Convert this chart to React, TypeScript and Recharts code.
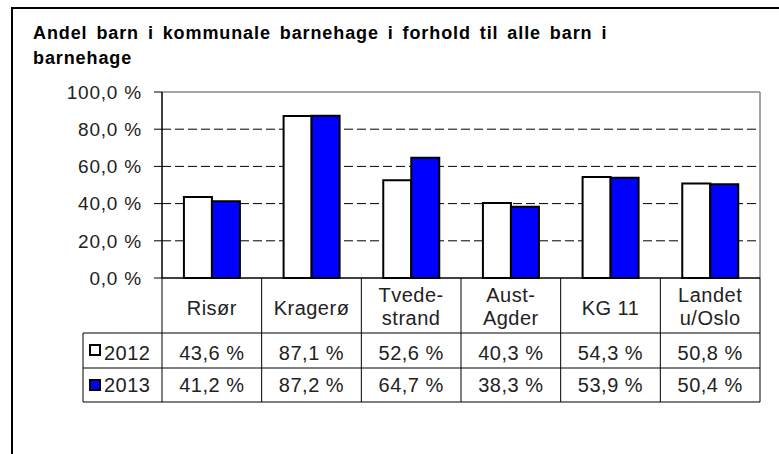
import React from "react";
import {
  BarChart,
  Bar,
  XAxis,
  YAxis,
  CartesianGrid,
  ReferenceLine,
} from "recharts";

const categories = ["Risør", "Kragerø", "Tvede-\nstrand", "Aust-\nAgder", "KG 11", "Landet\nu/Oslo"];
const values2012 = [43.6, 87.1, 52.6, 40.3, 54.3, 50.8];
const values2013 = [41.2, 87.2, 64.7, 38.3, 53.9, 50.4];
const yTicks = [0, 20, 40, 60, 80, 100];
const seriesNames = ["2012", "2013"];

const FONT = '"Liberation Sans", Arial, sans-serif';
const BLUE = "#0000ff";
const TEXT = "#222";

const fmt = (v: number) => `${v.toFixed(1).replace(".", ",")} %`;

const chartData = categories.map((name, i) => ({
  name,
  y2012: values2012[i],
  y2013: values2013[i],
}));

const seriesRows = [
  { name: seriesNames[0], values: values2012, color: "#fff" },
  { name: seriesNames[1], values: values2013, color: BLUE },
];

// plot area: x 162..760, y 92..278; data table hangs under it
const PLOT_LEFT = 162;
const PLOT_RIGHT = 760;
const COL_W = (PLOT_RIGHT - PLOT_LEFT) / categories.length;
const LEGEND_LEFT = 83;
const HEAD_H = 55;
const ROW_H = 35;
const TABLE_H = HEAD_H + 2 * ROW_H - 1;

// each x-axis tick draws its own column of the data table
function TableColumn(props: any) {
  const { x, y, payload, index } = props;
  const left = x - COL_W / 2;
  const right = x + COL_W / 2;
  const lines = String(payload.value).split("\n");
  const textProps = {
    fontFamily: FONT,
    fontSize: 20,
    letterSpacing: 0.5,
    fill: TEXT,
    textAnchor: "middle" as const,
  };
  const rowTops = [y + HEAD_H, y + HEAD_H + ROW_H, y + TABLE_H];
  return (
    <g>
      <line x1={right} x2={right} y1={y} y2={y + TABLE_H} stroke="#000" />
      {rowTops.map((ry, k) => (
        <line key={k} x1={left} x2={right} y1={ry} y2={ry} stroke="#000" />
      ))}
      {lines.length === 1 ? (
        <text x={x} y={y + 37} {...textProps}>
          {lines[0]}
        </text>
      ) : (
        lines.map((t, k) => (
          <text key={k} x={x} y={y + 24 + k * 23} {...textProps}>
            {t}
          </text>
        ))
      )}
      {seriesRows.map((r, k) => (
        <text key={r.name} x={x} y={y + 82 + k * 32} {...textProps}>
          {fmt(r.values[index])}
        </text>
      ))}
      {index === 0 && (
        <g>
          <line x1={left} x2={left} y1={y} y2={y + TABLE_H} stroke="#000" />
          <line x1={LEGEND_LEFT} x2={LEGEND_LEFT} y1={y + HEAD_H} y2={y + TABLE_H} stroke="#000" />
          {rowTops.map((ry, k) => (
            <line key={k} x1={LEGEND_LEFT} x2={left} y1={ry} y2={ry} stroke="#000" />
          ))}
          {seriesRows.map((r, k) => (
            <g key={r.name}>
              <rect
                x={LEGEND_LEFT + 7}
                y={y + HEAD_H + 12 + k * ROW_H}
                width={10}
                height={10}
                fill={r.color}
                stroke="#000"
                strokeWidth={2}
              />
              <text
                x={LEGEND_LEFT + 21}
                y={y + 82 + k * 32}
                fontFamily={FONT}
                fontSize={20}
                letterSpacing={0.5}
                fill={TEXT}
              >
                {r.name}
              </text>
            </g>
          ))}
        </g>
      )}
    </g>
  );
}

export default function App() {
  return (
    <div
      style={{
        position: "fixed",
        left: 0,
        top: 0,
        width: 779,
        height: 454,
        background: "#fff",
        overflow: "hidden",
      }}
    >
      <div
        style={{
          position: "absolute",
          left: 11,
          top: 7,
          width: 820,
          height: 500,
          borderTop: "2px solid #000",
          borderLeft: "2px solid #000",
        }}
      />
      <div
        style={{
          position: "absolute",
          left: 33,
          top: 21,
          width: 740,
          fontFamily: FONT,
          fontWeight: "bold",
          fontSize: 18,
          lineHeight: "25px",
          color: "#000",
          letterSpacing: 0.9,
          wordSpacing: 3,
          whiteSpace: "nowrap",
        }}
      >
        Andel barn i kommunale barnehage i forhold til alle barn i
        <br />
        barnehage
      </div>

      <div style={{ position: "absolute", left: 0, top: 0 }}>
        <BarChart
          width={779}
          height={420}
          data={chartData}
          margin={{ top: 92, right: 779 - PLOT_RIGHT, bottom: 0, left: 0 }}
          barCategoryGap="22%"
          barGap={0}
        >
          <CartesianGrid
            vertical={false}
            horizontalValues={[20, 40, 60, 80]}
            stroke="#000"
            strokeDasharray="9 4"
          />
          {/* grey frame on the right side of the plot */}
          <CartesianGrid
            horizontal={false}
            verticalCoordinatesGenerator={({ offset }: any) => [offset.left + offset.width]}
            stroke="#888"
            strokeWidth={1.5}
          />
          <XAxis
            dataKey="name"
            height={142}
            interval={0}
            tickLine={false}
            tickSize={0}
            tickMargin={0}
            axisLine={{ stroke: "#000", strokeWidth: 1.5 }}
            tick={<TableColumn />}
          />
          <YAxis
            domain={[0, 100]}
            ticks={yTicks}
            width={PLOT_LEFT}
            tickFormatter={fmt}
            axisLine={{ stroke: "#000", strokeWidth: 1.5 }}
            tickLine={{ stroke: "#000" }}
            tickSize={8}
            tickMargin={12}
            tick={{
              fill: TEXT,
              fontSize: 19,
              fontFamily: FONT,
              letterSpacing: 0.8,
            }}
            interval={0}
          />
          <ReferenceLine y={100} stroke="#888" strokeWidth={1.5} />
          <Bar dataKey="y2012" fill="#fff" stroke="#000" strokeWidth={2} isAnimationActive={false} />
          <Bar dataKey="y2013" fill={BLUE} stroke="#000" strokeWidth={2} isAnimationActive={false} />
        </BarChart>
      </div>
    </div>
  );
}
